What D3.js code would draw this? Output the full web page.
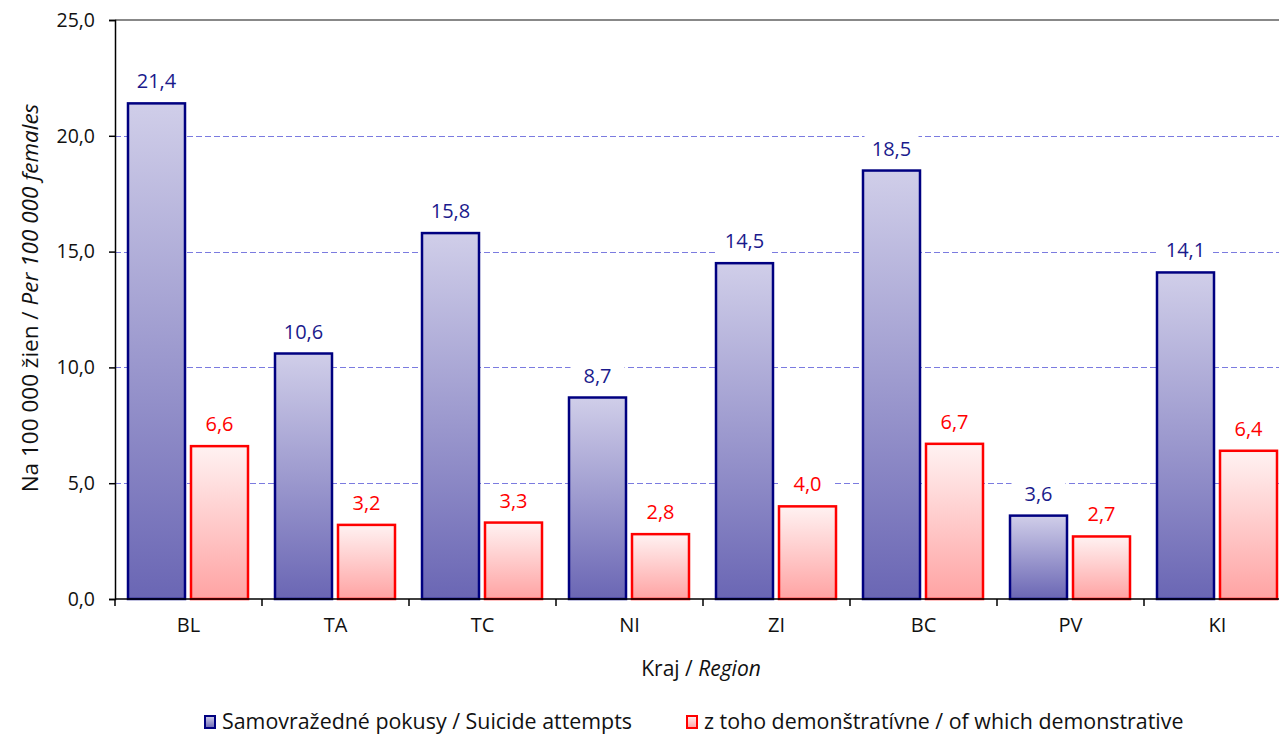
<!DOCTYPE html>
<html><head><meta charset="utf-8">
<script src="https://cdn.jsdelivr.net/npm/d3@7"></script>
<style>body{margin:0;background:#fff}svg{display:block}text{font-family:"Open Sans","DejaVu Sans",sans-serif}</style>
</head><body><svg id="c" width="1279" height="735"></svg>
<script>
const categories = ["BL","TA","TC","NI","ZI","BC","PV","KI"];
const attempts = [21.4,10.6,15.8,8.7,14.5,18.5,3.6,14.1];
const demonstrative = [6.6,3.2,3.3,2.8,4.0,6.7,2.7,6.4];
const yTicks = [0,5,10,15,20,25];
const seriesNames = ["Samovražedné pokusy / Suicide attempts","z toho demonštratívne / of which demonstrative"];

const svg = d3.select("#c");
const L = 115, T = 20, B = 599, R = 1291;
const x = d3.scaleBand().domain(categories).range([L, R]).paddingInner(0).paddingOuter(0);
const y = d3.scaleLinear().domain([0,25]).range([B, T]);
const fmt = v => v.toFixed(1).replace(".", ",");

const defs = svg.append("defs");
const gb = defs.append("linearGradient").attr("id","gB").attr("x1",0).attr("y1",0).attr("x2",0).attr("y2",1);
gb.append("stop").attr("offset","0%").attr("stop-color","#d0cee9");
gb.append("stop").attr("offset","100%").attr("stop-color","#6a66b4");
const gr = defs.append("linearGradient").attr("id","gR").attr("x1",0).attr("y1",0).attr("x2",0).attr("y2",1);
gr.append("stop").attr("offset","0%").attr("stop-color","#fff2f2");
gr.append("stop").attr("offset","100%").attr("stop-color","#ffa3a3");

// gridlines
svg.append("g").selectAll("line").data(yTicks.filter(d=>d>0&&d<25)).join("line")
  .attr("x1",L).attr("x2",1279).attr("y1",d=>Math.round(y(d))+0.5).attr("y2",d=>Math.round(y(d))+0.5)
  .attr("stroke","#7b7be0").attr("stroke-width",1).attr("stroke-dasharray","6,3");
svg.append("line").attr("x1",L).attr("x2",1279).attr("y1",y(25)).attr("y2",y(25)).attr("stroke","#888").attr("stroke-width",2);

const bw = 57, gap = 5, padL = 13;
const series = [
  {vals: attempts, fill:"url(#gB)", stroke:"#000080", lab:"#1a1a8c", off: padL},
  {vals: demonstrative, fill:"url(#gR)", stroke:"#ff0000", lab:"#ff0000", off: padL+bw+gap+1}
];
series.forEach(s=>{
  svg.append("g").selectAll("rect").data(categories).join("rect")
    .attr("x",(c)=>x(c)+s.off).attr("width",bw)
    .attr("y",(c,i)=>y(s.vals[i])).attr("height",(c,i)=>B-y(s.vals[i]))
    .attr("fill",s.fill).attr("stroke",s.stroke).attr("stroke-width",2.5);
});
// labels
series.forEach(s=>{
  const g = svg.append("g");
  categories.forEach((c,i)=>{
    const cx = x(c)+s.off+bw/2, cy = y(s.vals[i]) - 22;
    g.append("rect").attr("x",cx-27).attr("y",cy-13).attr("width",54).attr("height",26).attr("fill","#fff");
    g.append("text").attr("x",cx).attr("y",cy).attr("dy","0.35em").attr("text-anchor","middle")
      .attr("font-size",20).attr("fill",s.lab).text(fmt(s.vals[i]));
  });
});

// axes
const ya = svg.append("g").attr("transform",`translate(${L},0)`)
  .call(d3.axisLeft(y).tickValues(yTicks).tickFormat(fmt).tickSize(6).tickPadding(14));
ya.select(".domain").attr("stroke","#000").attr("stroke-width",1.5);
ya.selectAll("text").attr("font-size",19.5).attr("fill","#111");
ya.selectAll(".tick line").attr("stroke","#000").attr("stroke-width",1.5);

const xa = svg.append("g").attr("transform",`translate(0,${B})`)
  .call(d3.axisBottom(x).tickSize(0).tickPadding(19));
xa.select(".domain").attr("stroke","#000").attr("stroke-width",1.5).attr("d",`M${L},0H${R}`);
xa.selectAll("text").attr("font-size",20).attr("fill","#111");
svg.append("g").selectAll("line").data(categories.concat(["_end"])).join("line")
  .attr("x1",(c,i)=>L+i*x.bandwidth()).attr("x2",(c,i)=>L+i*x.bandwidth())
  .attr("y1",B).attr("y2",B+7).attr("stroke","#000").attr("stroke-width",1.5);

// titles
const yt = svg.append("text").attr("transform","translate(38,298) rotate(-90)").attr("text-anchor","middle").attr("font-size",22.5).attr("fill","#111");
yt.append("tspan").text("Na 100 000 žien / ");
yt.append("tspan").attr("font-style","italic").text("Per 100 000 females");
const xt = svg.append("text").attr("x",701).attr("y",669).attr("dy","0.35em").attr("text-anchor","middle").attr("font-size",21).attr("fill","#111");
xt.append("tspan").text("Kraj / ");
xt.append("tspan").attr("font-style","italic").text("Region");

// legend
const leg = [{x:205, fill:"url(#gB)", stroke:"#000080", name:seriesNames[0]},{x:687, fill:"url(#gR)", stroke:"#ff0000", name:seriesNames[1]}];
leg.forEach(l=>{
  svg.append("rect").attr("x",l.x).attr("y",716).attr("width",10).attr("height",12).attr("fill",l.fill).attr("stroke",l.stroke).attr("stroke-width",2);
  svg.append("text").attr("x",l.x+17).attr("y",722).attr("dy","0.35em").attr("font-size",21.4).attr("fill","#111").text(l.name);
});
</script></body></html>
